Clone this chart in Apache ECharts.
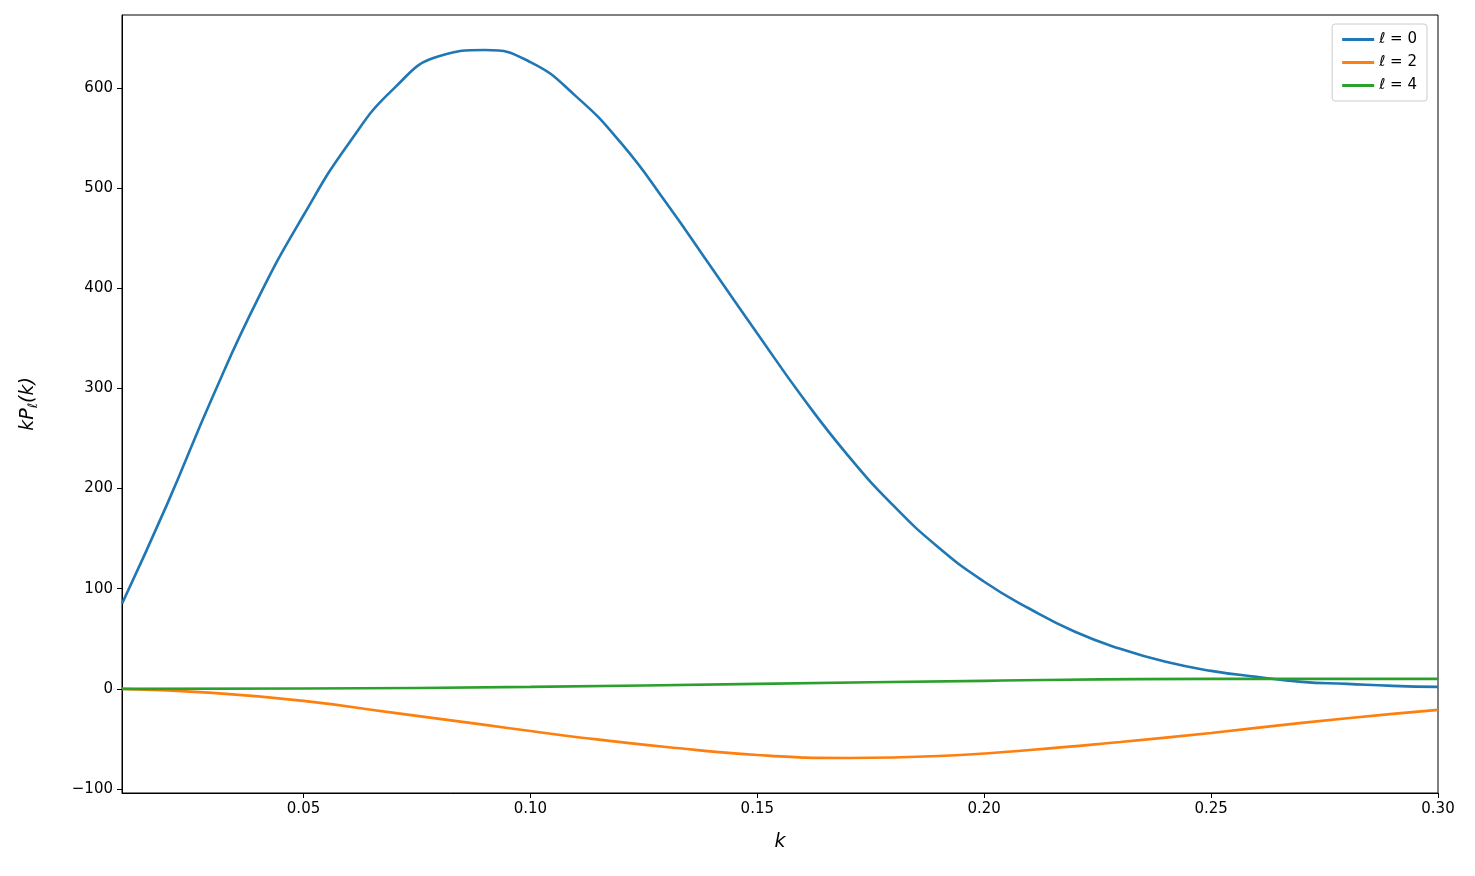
<!DOCTYPE html>
<html><head><meta charset="utf-8">
<script src="https://cdn.jsdelivr.net/npm/echarts@6/dist/echarts.min.js"></script>
<style>html,body{margin:0;background:#fff}#c{width:1475px;height:876px}</style>
</head><body><div id="c"></div>
<script>
'use strict';

const kMono = [0.01,0.02,0.03,0.04,0.05,0.06,0.07,0.08,0.09,0.10,0.11,0.12,0.13,0.14,0.15,0.16,0.17,0.18,0.19,0.20,0.21,0.22,0.23,0.24,0.25,0.26,0.27,0.28,0.29,0.30];
const p0 = [85,185,292,390,473,545,600,632,638,626,592,545,485,420,355,291,233,183,141,107,80,57,40,27,18,12,7,5,3,2];
const kQuad = [0.01,0.03,0.05,0.07,0.09,0.10,0.11,0.13,0.15,0.17,0.19,0.21,0.23,0.25,0.27,0.29,0.30];
const p2 = [0,-4,-12,-24,-36,-42,-48,-58,-66,-69,-67,-61,-53,-44,-34,-25,-21];
const kHex = [0.01,0.05,0.10,0.15,0.20,0.25,0.30];
const p4 = [0,0.3,2,5,8,10,10];
const xTicks = [0.05,0.10,0.15,0.20,0.25,0.30];
const yTicks = [-100,0,100,200,300,400,500,600];

const zip = (xs, ys) => xs.map((x, i) => [x, ys[i]]);
const font = 'DejaVu Sans';

const chart = echarts.init(document.getElementById('c'));
chart.setOption({
    animation: false,
    textStyle: { fontFamily: font },
    grid: { left: 122, right: 37, top: 15, bottom: 83, show: true, borderColor: '#000', borderWidth: 1 },
    legend: {
        right: 48, top: 24, orient: 'vertical', itemGap: 8,
        icon: 'rect', itemWidth: 32, itemHeight: 3, padding: [8, 10],
        borderColor: '#ccc', borderWidth: 1, borderRadius: 3,
        textStyle: { fontSize: 15, color: '#000' },
        data: ['ℓ = 0', 'ℓ = 2', 'ℓ = 4']
    },
    xAxis: {
        type: 'value', min: 0.01, max: 0.30,
        name: 'k', nameLocation: 'middle', nameGap: 40,
        nameTextStyle: { fontSize: 19, fontStyle: 'italic', color: '#000' },
        splitLine: { show: false },
        axisLine: { onZero: false, lineStyle: { color: '#000' } },
        axisTick: { customValues: xTicks, length: 5, lineStyle: { color: '#000' } },
        axisLabel: { customValues: xTicks, fontSize: 15, margin: 9, color: '#000', formatter: v => v.toFixed(2) }
    },
    yAxis: {
        type: 'value', min: -104, max: 673,
        name: '{i|kP}{s|ℓ}{i|(k)}', nameLocation: 'middle', nameGap: 82,
        nameTextStyle: { rich: { i: { fontSize: 19, fontStyle: 'italic', color: '#000' }, s: { fontSize: 13, fontStyle: 'italic', color: '#000', padding: [10, 0, 0, 0] } } },
        splitLine: { show: false },
        axisLine: { lineStyle: { color: '#000' } },
        axisTick: { customValues: yTicks, length: 5, lineStyle: { color: '#000' } },
        axisLabel: { customValues: yTicks, fontSize: 15, margin: 9, color: '#000', formatter: v => v < 0 ? '\u2212' + (-v) : String(v) }
    },
    series: [
        { name: 'ℓ = 0', type: 'line', data: zip(kMono, p0), smooth: 0.5, showSymbol: false, lineStyle: { width: 2.6, color: '#1f77b4' }, itemStyle: { color: '#1f77b4' } },
        { name: 'ℓ = 2', type: 'line', data: zip(kQuad, p2), smooth: 0.5, showSymbol: false, lineStyle: { width: 2.6, color: '#ff7f0e' }, itemStyle: { color: '#ff7f0e' } },
        { name: 'ℓ = 4', type: 'line', data: zip(kHex, p4), smooth: 0.5, showSymbol: false, lineStyle: { width: 2.6, color: '#2ca02c' }, itemStyle: { color: '#2ca02c' } }
    ]
});
</script></body></html>
